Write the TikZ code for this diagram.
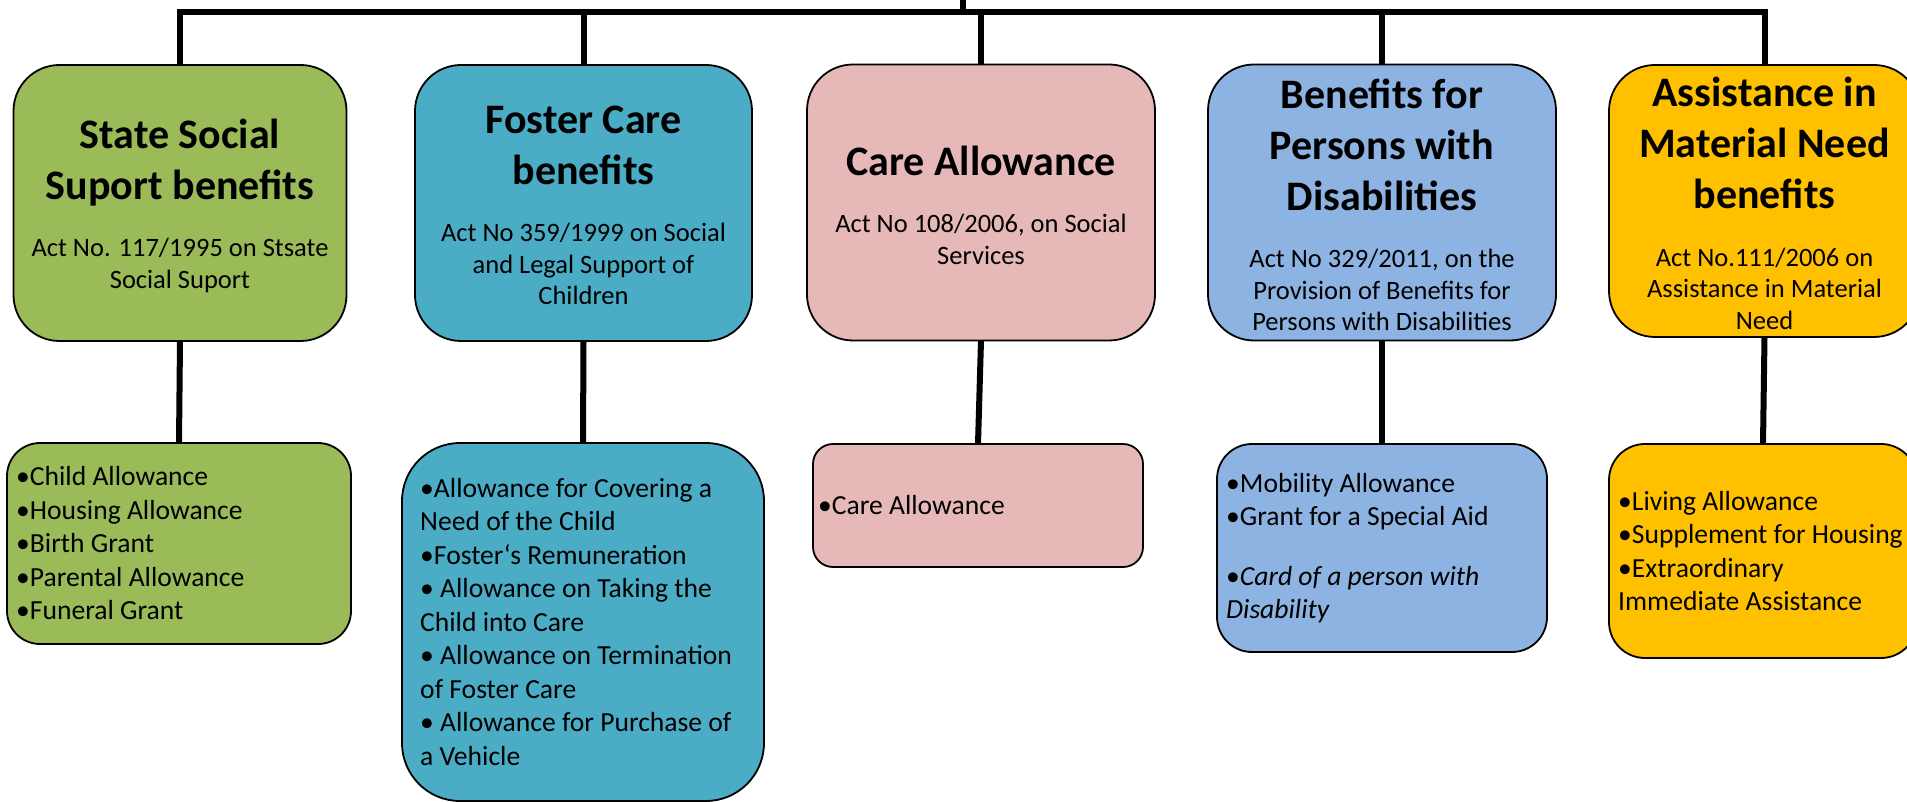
\documentclass[tikz,border=0pt]{standalone}
\usepackage{fontspec}
\setmainfont{Carlito}
\usetikzlibrary{positioning}
\definecolor{ssbgreen}{HTML}{9BBB59}
\definecolor{fcbteal}{HTML}{4BACC6}
\definecolor{capink}{HTML}{E6B9B8}
\definecolor{bpdblue}{HTML}{8DB3E2}
\definecolor{amngold}{HTML}{FFC000}
\newcommand{\boxtitle}{\fontsize{42}{51}\selectfont\bfseries\spaceskip=0pt\xspaceskip=0pt}
\newcommand{\boxact}{\fontsize{26.5}{31.5}\selectfont\mdseries\spaceskip=0pt\xspaceskip=0pt}
\tikzset{
  topbox/.style={draw, line width=1.8pt, rounded corners=46pt, minimum height=276pt, text width=300pt, align=flush center, inner sep=0pt, outer sep=0pt, execute at end node={\par\kern-5pt}},
  listbox/.style={draw, line width=1.8pt, inner sep=0pt, outer sep=0pt},
  listtext/.style={font=\fontsize{27.6}{33.5}\selectfont, align=left, inner sep=0pt},
  conn/.style={line width=6pt}
}
\begin{document}
  \begin{tikzpicture}[x=1pt, y=-1pt]
    \useasboundingbox (0,0) rectangle (1907,802);
    \clip (0,0) rectangle (1907,802);
    \node [topbox, fill=ssbgreen, minimum width=333pt] (ssb) at (180,203) {\boxtitle State Social\\Suport benefits\par\vspace{26pt}\boxact Act No. 117/1995 on Stsate\\Social Suport\par};
    \node [topbox, fill=fcbteal, minimum width=337pt] (fcb) at (583.5,203) {\boxtitle Foster Care\\benefits\par\vspace{26pt}\boxact Act No 359/1999 on Social\\and Legal Support of\\Children\par};
    \node [topbox, fill=capink, minimum width=348pt] (ca) at (981,202.5) {\boxtitle Care Allowance\par\vspace{26pt}\boxact Act No 108/2006, on Social\\Services\par};
    \node [topbox, fill=bpdblue, minimum width=348pt] (bpd) at (1382,202.5) {\boxtitle Benefits for\\Persons with\\Disabilities\par\vspace{26pt}\boxact Act No 329/2011, on the\\Provision of Benefits for\\Persons with Disabilities\par};
    \node [topbox, fill=amngold, minimum width=311pt, minimum height=272pt] (amn) at (1764.5,201) {\boxtitle Assistance in\\Material Need\\benefits\par\vspace{26pt}\boxact Act No.111/2006 on\\Assistance in Material\\Need\par};

    \node [listbox, fill=ssbgreen, minimum width=344pt, minimum height=201pt, rounded corners=33pt] (ssbitems) at (179,543.5) {};
    \node [listbox, fill=fcbteal, minimum width=362pt, minimum height=358pt, rounded corners=58pt] (fcbitems) at (583,622) {};
    \node [listbox, fill=capink, minimum width=330pt, minimum height=123pt, rounded corners=20pt] (caitems) at (978,505.5) {};
    \node [listbox, fill=bpdblue, minimum width=330pt, minimum height=208pt, rounded corners=35pt] (bpditems) at (1382,548) {};
    \node [listbox, fill=amngold, minimum width=308pt, minimum height=214pt, rounded corners=36pt] (amnitems) at (1763,551) {};

    \node [listtext, right=9pt of ssbitems.west] (ssbtext) {•Child Allowance\\•Housing Allowance\\•Birth Grant\\•Parental Allowance\\•Funeral Grant};
    \node [listtext, right=18pt of fcbitems.west] (fcbtext) {•Allowance for Covering a\\Need of the Child\\•Foster‘s Remuneration\\• Allowance on Taking the\\Child into Care\\• Allowance on Termination\\of Foster Care\\• Allowance for Purchase of\\a Vehicle};
    \node [listtext, right=5pt of caitems.west] (catext) {•Care Allowance};
    \node [listtext, right=9pt of bpditems.west] (bpdtext) {•Mobility Allowance\\•Grant for a Special Aid\\[26pt]•\textit{Card of a person with}\\\textit{Disability}};
    \node [listtext, right=9pt of amnitems.west] (amntext) {•Living Allowance\\•Supplement for Housing\\•Extraordinary\\Immediate Assistance};

    \coordinate (rootstub) at (963,-8);
    \coordinate (bus) at (963,12);
    \draw [conn] (rootstub) -- (bus);
    \draw [conn] (ssb.north) |- (bus) -| (amn.north);
    \foreach \b in {fcb,ca,bpd}
      \draw [conn] (\b.north) -- (\b.north |- bus);
    \foreach \a/\b in {ssb/ssbitems,fcb/fcbitems,ca/caitems,bpd/bpditems,amn/amnitems}
      \draw [conn] (\a.south) -- (\b.north);
  \end{tikzpicture}
\end{document}
